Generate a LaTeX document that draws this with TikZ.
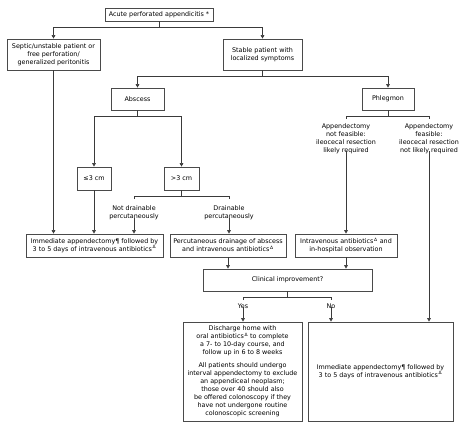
\documentclass[tikz,border=0pt]{standalone}
\usepackage{fontspec}
\setmainfont{DejaVu Sans}
\usetikzlibrary{arrows.meta}
\definecolor{boxc}{HTML}{4A4A4A}
\definecolor{linec}{HTML}{3A3A3A}
\newcommand{\dl}{\textsuperscript{\,Δ}}
\tikzset{
  every node/.style={font=\fontsize{6.4}{8}\selectfont, text=black, inner sep=0pt, align=center},
  bx/.style={draw=boxc, line width=0.9pt, minimum width=#1},
  ln/.style={draw=linec, line width=0.65pt},
  arr/.style={ln, -{Triangle[length=3.5pt,width=3.8pt]}}
}
\begin{document}
\begin{tikzpicture}[x=1pt,y=-1pt]
\useasboundingbox (0,0) rectangle (474,428);
% boxes
\node[bx=108, minimum height=13] (top) at (159,14.5) {Acute perforated appendicitis *};
\node[bx=93, minimum height=31] (septic) at (53.5,54.5) {Septic/unstable patient or\\free perforation/\\generalized peritonitis};
\node[bx=79, minimum height=31] (stable) at (262.5,54.5) {Stable patient with\\localized symptoms};
\node[bx=53, minimum height=22] (abscess) at (137.5,99) {Abscess};
\node[bx=52, minimum height=22] (phleg) at (388,99) {Phlegmon};
\node[bx=34, minimum height=23] (le3) at (94,178.5) {≤3 cm};
\node[bx=35, minimum height=23] (gt3) at (181.5,178.5) {>3 cm};
\node (notdrain) at (134,212.5) {Not drainable\\percutaneously};
\node (drain) at (229,212.5) {Drainable\\percutaneously};
\node (pnf) at (346,139) {Appendectomy\\not feasible:\\ileocecal resection\\likely required};
\node (pf) at (429,139) {Appendectomy\\feasible:\\ileocecal resection\\not likely required};
\node[bx=137, minimum height=23] (immed) at (94.5,245.5) {Immediate appendectomy¶ followed by\\3 to 5 days of intravenous antibiotics\dl};
\node[bx=116, minimum height=23] (perc) at (228,245.5) {Percutaneous drainage of abscess\\and intravenous antibiotics\dl};
\node[bx=102, minimum height=23] (iv) at (346,245.5) {Intravenous antibiotics\dl{} and\\in-hospital observation};
\node[bx=169, minimum height=22] (clin) at (287.5,280) {Clinical improvement?};
\node (yes) at (243,306.5) {Yes};
\node (no) at (331,306.5) {No};
\node[bx=119, minimum height=99] (disch) at (242.5,371.5) {Discharge home with\\oral antibiotics\dl{} to complete\\a 7- to 10-day course, and\\follow up in 6 to 8 weeks\\[5pt]All patients should undergo\\interval appendectomy to exclude\\an appendiceal neoplasm;\\those over 40 should also\\be offered colonoscopy if they\\have not undergone routine\\colonoscopic screening};
\node[bx=145, minimum height=99] (immed2) at (380.5,371.5) {Immediate appendectomy¶ followed by\\3 to 5 days of intravenous antibiotics\dl};
% junctions
\coordinate (j1) at (159,27);
\coordinate (j2) at (262.5,76);
\coordinate (j3) at (137.5,116);
\coordinate (j4) at (388,116);
\coordinate (j4a) at (346,116);
\coordinate (j4b) at (429,116);
\coordinate (j4c) at (346,119);
\coordinate (j4d) at (429,119);
\coordinate (j5) at (181.5,196);
\coordinate (j5a) at (134,196);
\coordinate (j5b) at (229,196);
\coordinate (j5c) at (134,199);
\coordinate (j5d) at (229,199);
\coordinate (j6) at (287.5,297);
\coordinate (j6a) at (243,297);
\coordinate (j6b) at (331,297);
\coordinate (j6c) at (243,300);
\coordinate (j6d) at (331,300);
% connectors
\draw[ln] (top.south) -- (j1);
\draw[arr] (j1) -| (septic);
\draw[arr] (j1) -| (stable);
\draw[ln] (stable.south) -- (j2);
\draw[arr] (j2) -| (abscess);
\draw[arr] (j2) -| (phleg);
\draw[ln] (abscess.south) -- (j3);
\draw[arr] (j3) -| (le3);
\draw[arr] (j3) -| (gt3);
\draw[ln] (gt3.south) -- (j5);
\draw[ln] (j5c) -- (j5a) -- (j5b) -- (j5d);
\draw[ln] (phleg.south) -- (j4);
\draw[ln] (j4c) -- (j4a) -- (j4b) -- (j4d);
\draw[arr] (septic.south) -- (septic.south |- immed.north);
\draw[arr] (le3.south) -- (le3.south |- immed.north);
\draw[arr] ([yshift=2pt]notdrain.south) -- (notdrain.south |- immed.north);
\draw[arr] ([yshift=2pt]drain.south) -- (drain.south |- perc.north);
\draw[arr] ([yshift=3pt]pnf.south) -- (pnf.south |- iv.north);
\draw[arr] ([yshift=3pt]pf.south) -- (pf.south |- immed2.north);
\draw[arr] (perc.south) -- (perc.south |- clin.north);
\draw[arr] (iv.south) -- (iv.south |- clin.north);
\draw[ln] (clin.south) -- (j6);
\draw[ln] (j6c) -- (j6a) -- (j6b) -- (j6d);
\draw[arr] ([yshift=2pt]yes.south) -- (yes.south |- disch.north);
\draw[arr] ([yshift=2pt]no.south) -- (no.south |- immed2.north);
\end{tikzpicture}
\end{document}
